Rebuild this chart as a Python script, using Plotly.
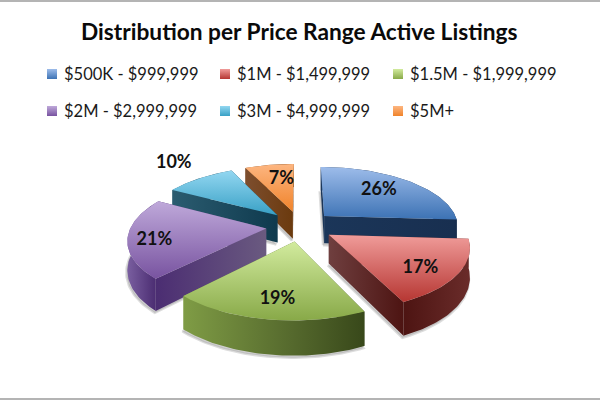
import numpy as np
import plotly.graph_objects as go

# Price bands and their share of active listings
categories = ["$500K - $999,999", "$1M - $1,499,999", "$1.5M - $1,999,999",
              "$2M - $2,999,999", "$3M - $4,999,999", "$5M+"]
shares = [26, 17, 19, 21, 10, 7]
title = "Distribution per Price Range Active Listings"

# Colours per slice: top face gradient, then side wall gradient
top_light = ["#9dbcea", "#f09c9a", "#d2eb9e", "#bfa9da", "#93d7f1", "#fdb681"]
top_dark = ["#3c72b4", "#b63632", "#88a948", "#7853a0", "#38a0c5", "#f0832a"]
wall_left = ["#1b3659", "#6f3f3f", "#7f9c45", "#7a5fa0", "#2b5c70", "#7d4e2e"]
wall_mid = ["#182f50", "#4d1412", "#55692d", "#4b2d72", "#0f3a4e", "#6b3a0e"]
wall_right = ["#162c4c", "#6a2c2a", "#38481a", "#6a5a80", "#0f3a4e", "#6b3a0e"]

# Projection settings for the tilted, exploded pie
FONT = "Lato"
CX, CY = 300, 226
RADIUS = 135
EXPLODE = 34
TILT = 0.445
PERSPECTIVE = 0.00122
DEPTH = 28
LABEL_RADIUS = [0.70, 0.755, 0.75, 0.81, 1.47, 0.70]
LABEL_TURN = [-3.6, 3.0, -1.0, -2.0, 2.0, 3.0]
LABEL_DROP = 2


def project(x, y, z=0.0):
    s = 1 / (1 + PERSPECTIVE * y)
    return CX + x * s, CY - TILT * y * s - z * s


def vgrad(top, bottom):
    # y grows downwards here, so the scale runs from the lower edge upwards
    return dict(type="vertical", colorscale=[[0, bottom], [1, top]])


fig = go.Figure()


def face(xs, ys, grad=None, color=None, line=None):
    kw = dict(fillgradient=grad) if grad else dict(fillcolor=color)
    fig.add_trace(go.Scatter(
        x=list(xs) + [xs[0]], y=list(ys) + [ys[0]], mode="lines", fill="toself",
        line=line or dict(width=0), showlegend=False, hoverinfo="skip", **kw))


# Slice angles run clockwise from twelve o'clock
edges = np.radians(np.cumsum([0] + shares) * 3.6)
slices = []
for i in range(len(shares)):
    a0, a1 = edges[i], edges[i + 1]
    mid = (a0 + a1) / 2
    ox, oy = EXPLODE * np.sin(mid), EXPLODE * np.cos(mid)
    t = np.linspace(a0, a1, 60)
    ax = ox + RADIUS * np.sin(t)
    ay = oy + RADIUS * np.cos(t)
    slices.append(dict(i=i, ox=ox, oy=oy, ax=ax, ay=ay, mid=mid))

# Far slices are painted first so the nearer ones overlap them
for sl in sorted(slices, key=lambda q: -q["oy"]):
    i, ox, oy, ax, ay = sl["i"], sl["ox"], sl["oy"], sl["ax"], sl["ay"]
    px = np.concatenate([[ox], ax])
    py = np.concatenate([[oy], ay])
    tx, ty = project(px, py, 0)

    # The wall shading spans the whole slice and turns at its lowest corner
    xmin, xmax = tx.min(), tx.max()
    turn = float(np.clip((tx[np.argmax(ty)] - xmin) / (xmax - xmin), 0.02, 0.98))
    wall_grad = dict(type="horizontal", start=xmin, stop=xmax,
                     colorscale=[[0, wall_left[i]], [turn, wall_mid[i]], [1, wall_right[i]]])

    # soft contact shadow under the slice
    sx, sy = project(px, py, -DEPTH)
    face(sx - 1, sy + 2, color="rgba(150,150,150,0.45)",
         line=dict(width=2.5, color="rgba(170,170,170,0.4)"))

    walls = [
        (np.array([ox, ax[0]]), np.array([oy, ay[0]])),
        (np.array([ox, ax[-1]]), np.array([oy, ay[-1]])),
        (ax, ay),
    ]
    walls.sort(key=lambda w: -w[1].mean())
    for wx, wy in walls:
        wtx, wty = project(wx, wy, 0)
        bx, by = project(wx, wy, -DEPTH)
        face(np.concatenate([wtx, bx[::-1]]), np.concatenate([wty, by[::-1]]),
             grad=wall_grad)

    face(tx, ty, grad=vgrad(top_light[i], top_dark[i]))

# Percentage labels sit near each slice's bisector
lx, ly, ltext = [], [], []
for sl in slices:
    i = sl["i"]
    angle = sl["mid"] + np.radians(LABEL_TURN[i])
    rho = EXPLODE + RADIUS * LABEL_RADIUS[i]
    x, y = project(rho * np.sin(angle), rho * np.cos(angle))
    lx.append(x)
    ly.append(y + LABEL_DROP)
    ltext.append(f"{shares[i]}%")
fig.add_trace(go.Scatter(
    x=lx, y=ly, text=ltext, mode="text", showlegend=False, hoverinfo="skip",
    textfont=dict(family=FONT, size=18, color="#111111", weight="bold")))

# Two-row key: swatch followed by its label
col_x = [47, 220, 393]
row_y = [74, 111]
for i, name in enumerate(categories):
    x0, y0 = col_x[i % 3], row_y[i // 3]
    fig.add_trace(go.Scatter(
        x=[x0 + 5], y=[y0], mode="markers", showlegend=False, hoverinfo="skip",
        marker=dict(symbol="square", size=10, color=top_light[i],
                    gradient=dict(type="vertical", color=top_dark[i]),
                    line=dict(width=0))))
    fig.add_annotation(x=x0 + 15, y=y0, text=name, xref="x", yref="y",
                       xanchor="left", yanchor="middle", showarrow=False,
                       font=dict(family=FONT, size=16.5, color="#1a1a1a"))

fig.add_annotation(x=299, y=31, text=f"<b>{title}</b>", xref="x", yref="y",
                   xanchor="center", yanchor="middle", showarrow=False,
                   font=dict(family=FONT, size=22.7, color="#0a0a0a"))

fig.update_layout(
    width=600, height=400, margin=dict(l=0, r=0, t=0, b=0),
    paper_bgcolor="white", plot_bgcolor="white", showlegend=False,
    xaxis=dict(range=[0, 600], visible=False, fixedrange=True),
    yaxis=dict(range=[400, 0], visible=False, fixedrange=True),
    shapes=[
        dict(type="rect", xref="x", yref="y", x0=0, x1=600, y0=0, y1=2,
             fillcolor="#b4b4b4", line=dict(width=0), layer="above"),
        dict(type="rect", xref="x", yref="y", x0=0, x1=600, y0=398, y1=400,
             fillcolor="#b4b4b4", line=dict(width=0), layer="above"),
    ],
)

fig.write_html("out.html", config=dict(displayModeBar=False))
